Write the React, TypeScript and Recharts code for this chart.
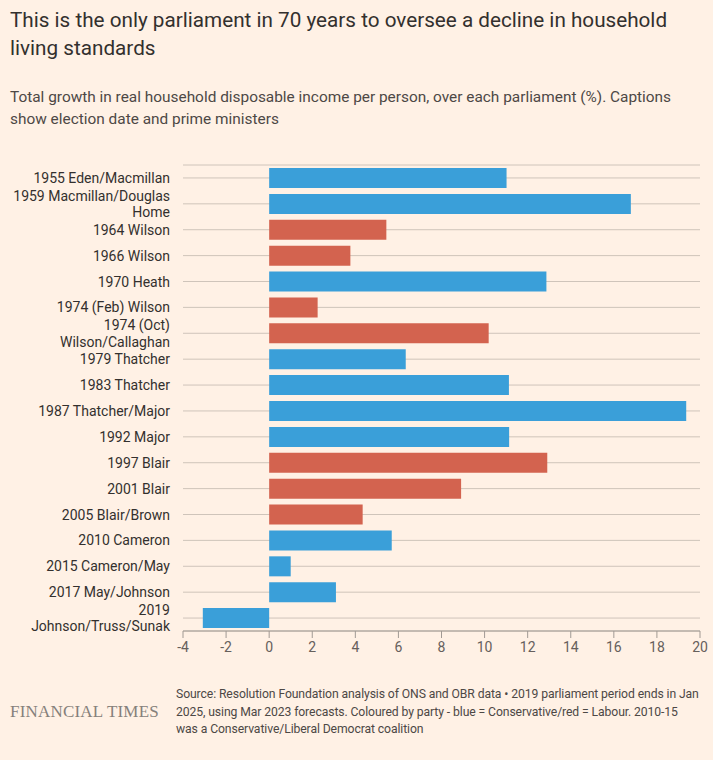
import React from "react";
import { BarChart, Bar, XAxis, YAxis, CartesianGrid, Cell } from "recharts";

const categories = [
  "1955 Eden/Macmillan",
  "1959 Macmillan/Douglas Home",
  "1964 Wilson",
  "1966 Wilson",
  "1970 Heath",
  "1974 (Feb) Wilson",
  "1974 (Oct) Wilson/Callaghan",
  "1979 Thatcher",
  "1983 Thatcher",
  "1987 Thatcher/Major",
  "1992 Major",
  "1997 Blair",
  "2001 Blair",
  "2005 Blair/Brown",
  "2010 Cameron",
  "2015 Cameron/May",
  "2017 May/Johnson",
  "2019 Johnson/Truss/Sunak",
];

const growth = [
  11.02, 16.79, 5.44, 3.77, 12.87, 2.25, 10.19, 6.34, 11.13, 19.36, 11.14,
  12.91, 8.91, 4.34, 5.69, 1.0, 3.1, -3.08,
];

const parties = [
  "Con", "Con", "Lab", "Lab", "Con", "Lab", "Lab", "Con", "Con", "Con", "Con",
  "Lab", "Lab", "Lab", "Con", "Con", "Con", "Con",
];

const xTicks = [-4, -2, 0, 2, 4, 6, 8, 10, 12, 14, 16, 18, 20];

const partyColors: Record<string, string> = {
  Con: "#3a9fd9",
  Lab: "#d3634f",
};

const data = categories.map((c, i) => ({
  name: c,
  value: growth[i],
  party: parties[i],
}));

const FONT = "Roboto, 'Noto Sans', sans-serif";

function wrap(label: string, maxChars: number): string[] {
  const words = label.split(" ");
  const lines: string[] = [];
  let cur = "";
  for (const w of words) {
    const next = cur ? cur + " " + w : w;
    if (next.length > maxChars && cur) {
      lines.push(cur);
      cur = w;
    } else {
      cur = next;
    }
  }
  if (cur) lines.push(cur);
  return lines;
}

const CategoryTick = (props: any) => {
  const { x, y, payload } = props;
  const lines = wrap(String(payload.value), 22);
  const lh = 16.6;
  const start = y - ((lines.length - 1) * lh) / 2;
  return (
    <g>
      {lines.map((l, i) => (
        <text
          key={i}
          x={x}
          y={start + i * lh}
          textAnchor="end"
          dominantBaseline="central"
          fontFamily={FONT}
          fontSize={14}
          fill="#33302e"
        >
          {l}
        </text>
      ))}
    </g>
  );
};

export default function App() {
  return (
    <div
      style={{
        position: "absolute",
        left: 0,
        top: 0,
        width: 713,
        height: 760,
        background: "#fff1e5",
        fontFamily: FONT,
        overflow: "hidden",
      }}
    >
      <div
        style={{
          position: "absolute",
          left: 10,
          top: 6,
          fontSize: 20.7,
          lineHeight: "28px",
          color: "#33302e",
          whiteSpace: "nowrap",
        }}
      >
        This is the only parliament in 70 years to oversee a decline in household
        <br />
        living standards
      </div>
      <div
        style={{
          position: "absolute",
          left: 10,
          top: 86,
          fontSize: 15.4,
          lineHeight: "22px",
          color: "#4d4845",
          whiteSpace: "nowrap",
        }}
      >
        Total growth in real household disposable income per person, over each parliament (%). Captions
        <br />
        show election date and prime ministers
      </div>

      <div style={{ position: "absolute", left: 0, top: 0 }}>
        <BarChart
          width={713}
          height={760}
          data={data}
          layout="vertical"
          margin={{ top: 165, right: 13, bottom: 99, left: 0 }}
          barSize={20}
        >
          <CartesianGrid
            vertical={false}
            horizontal={true}
            stroke="#cfc4ba"
            strokeWidth={1}
          />
          <XAxis
            type="number"
            domain={[-4, 20]}
            ticks={xTicks}
            interval={0}
            allowDataOverflow
            height={30}
            axisLine={{ stroke: "#a19a94" }}
            tickLine={{ stroke: "#a19a94" }}
            tickSize={7}
            tickMargin={4}
            tick={{ fontFamily: FONT, fontSize: 14, fill: "#66605c" }}
          />
          <YAxis
            type="category"
            dataKey="name"
            width={183}
            axisLine={false}
            tickLine={false}
            tickSize={0}
            tickMargin={13}
            interval={0}
            tick={<CategoryTick />}
          />
          <Bar dataKey="value" isAnimationActive={false}>
            {data.map((d, i) => (
              <Cell key={i} fill={partyColors[d.party]} />
            ))}
          </Bar>
        </BarChart>
      </div>

      <div
        style={{
          position: "absolute",
          left: 10,
          top: 701,
          fontFamily: "'Liberation Serif', 'DejaVu Serif', serif",
          fontSize: 17,
          lineHeight: "22px",
          color: "#85807b",
          letterSpacing: 0.2,
          whiteSpace: "nowrap",
        }}
      >
        FINANCIAL TIMES
      </div>
      <div
        style={{
          position: "absolute",
          left: 176,
          top: 686,
          fontSize: 12.2,
          lineHeight: "17.5px",
          letterSpacing: -0.1,
          color: "#4d4845",
          whiteSpace: "nowrap",
        }}
      >
        Source: Resolution Foundation analysis of ONS and OBR data • 2019 parliament period ends in Jan
        <br />
        2025, using Mar 2023 forecasts. Coloured by party - blue = Conservative/red = Labour. 2010-15
        <br />
        was a Conservative/Liberal Democrat coalition
      </div>
    </div>
  );
}
